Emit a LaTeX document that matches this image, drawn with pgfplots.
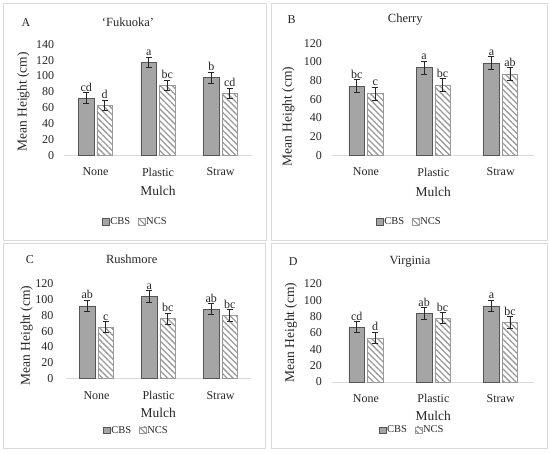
\documentclass[border=0pt]{standalone}
\usepackage{fontspec}
\setmainfont{Liberation Serif}
\usepackage{pgfplots}
\pgfplotsset{compat=1.18}
\usetikzlibrary{patterns.meta}

\definecolor{cbs}{HTML}{A5A5A5}
\definecolor{cbsedge}{HTML}{555555}
\definecolor{ncsline}{HTML}{9A9A9A}
\definecolor{frame}{HTML}{D9D9D9}
\definecolor{txt}{HTML}{262626}

\newcommand{\fs}[1]{\fontsize{#1}{#1}\selectfont}

\pgfplotsset{
  panel/.style={
    scale only axis, anchor=south west,
    ybar=3pt, bar width=15.5pt,
    xmin=-0.5, xmax=2.5, ymin=0,
    xtick={0,1,2}, xticklabels={None,Plastic,Straw},
    axis x line*=bottom, axis y line*=left,
    y axis line style={draw=none},
    x axis line style={-, draw=frame, line width=0.9pt},
    major tick length=0pt, tick style={draw=none},
    /pgf/number format/assume math mode=true,
    ticklabel style={font=\fs{12}, text=txt},
    xticklabel style={yshift=-9pt},
    point meta=explicit symbolic,
    nodes near coords,
    every node near coord/.append style={font=\fs{12}, text=txt, inner sep=1pt},
    legend style={draw=none, fill=none, legend columns=2, font=\fs{10.5}, text=txt,
      anchor=center,
      /tikz/every even column/.append style={column sep=7pt},
      nodes={inner sep=1pt}},
    legend image code/.code={\draw[#1] (0pt,-3.3pt) rectangle (6.6pt,3.3pt);},
    clip=false,
  },
  cbsbar/.style={fill=cbs, draw=cbsedge, line width=0.5pt,
    error bars/.cd, y dir=both, y explicit,
    error bar style={black!85, line width=0.7pt},
    error mark options={rotate=90, mark size=3pt, black!85, line width=0.7pt}},
  ncsbar/.style={fill=white, draw=ncsline, line width=0.5pt,
    pattern={Lines[angle=-45,distance=4.2pt,line width=1.3pt]}, pattern color=ncsline,
    error bars/.cd, y dir=both, y explicit,
    error bar style={black!85, line width=0.7pt},
    error mark options={rotate=90, mark size=3pt, black!85, line width=0.7pt}},
}

\begin{document}
\begin{tikzpicture}[x=1pt,y=1pt]
\path[use as bounding box] (0,0) rectangle (550,454);
\draw[frame, line width=0.8pt] (3,451) rectangle (266,214);
\draw[frame, line width=0.8pt] (271,451) rectangle (547,214);
\draw[frame, line width=0.8pt] (3,211) rectangle (265,6);
\draw[frame, line width=0.8pt] (271,211) rectangle (547,6);

% ---------- A
\begin{axis}[panel, at={(64.25pt,298.7pt)}, width=187.5pt, height=111pt,
  ymax=140, ytick={0,20,...,140},
  yticklabel style={xshift=-6.6pt},
  every node near coord/.append style={yshift=5.5pt},
  legend style={at={(axis description cs:0.377,-0.598)}}]
\addplot+[cbsbar] table[x=x,y=y,y error=e,meta=l] {
x y e l
0 72 7 cd
1 117 6 a
2 98 7 b
};
\addplot+[ncsbar] table[x=x,y=y,y error=e,meta=l] {
x y e l
0 63 6 d
1 88 6 bc
2 78 6 cd
};
\legend{CBS,NCS}
\end{axis}

% ---------- B
\begin{axis}[panel, at={(332.3pt,298.7pt)}, width=202.1pt, height=112pt,
  ymax=120, ytick={0,20,...,120},
  yticklabel style={xshift=-7pt},
  every node near coord/.append style={yshift=6.5pt},
  legend style={at={(axis description cs:0.380,-0.593)}}]
\addplot+[cbsbar] table[x=x,y=y,y error=e,meta=l] {
x y e l
0 74 7 bc
1 94 7 a
2 99 7 a
};
\addplot+[ncsbar] table[x=x,y=y,y error=e,meta=l] {
x y e l
0 66 7 c
1 75 7 bc
2 87 7 ab
};
\legend{CBS,NCS}
\end{axis}

% ---------- C
\begin{axis}[panel, at={(65.5pt,75.3pt)}, width=186pt, height=95pt,
  ymax=120, ytick={0,20,...,120},
  yticklabel style={xshift=-8.6pt},
  every node near coord/.append style={yshift=5.5pt},
  legend style={at={(axis description cs:0.379,-0.543)}}]
\addplot+[cbsbar] table[x=x,y=y,y error=e,meta=l] {
x y e l
0 92 7 ab
1 104 7 a
2 88 7 ab
};
\addplot+[ncsbar] table[x=x,y=y,y error=e,meta=l] {
x y e l
0 65 7 c
1 76 7 bc
2 80 7 bc
};
\legend{CBS,NCS}
\end{axis}

% ---------- D
\begin{axis}[panel, at={(332.3pt,72pt)}, width=202.1pt, height=98.3pt,
  ymax=120, ytick={0,20,...,120},
  yticklabel style={xshift=-7pt},
  every node near coord/.append style={yshift=5.7pt},
  legend style={at={(axis description cs:0.393,-0.491)}}]
\addplot+[cbsbar] table[x=x,y=y,y error=e,meta=l] {
x y e l
0 67 7 cd
1 84 7 ab
2 93 7 a
};
\addplot+[ncsbar] table[x=x,y=y,y error=e,meta=l] {
x y e l
0 54 7 d
1 78 7 bc
2 73 7 bc
};
\legend{CBS,NCS}
\end{axis}

% ---------- texts
\begin{scope}[every node/.style={text=txt}]
\node[font=\fs{12}] at (26,431.3) {A};
\node[font=\fs{12.5}] at (128,431.3) {‘Fukuoka’};
\node[font=\fs{13.5}, rotate=90] at (23.5,352) {Mean Height (cm)};
\node[font=\fs{13.5}] at (158,263) {Mulch};

\node[font=\fs{12}] at (291.7,434) {B};
\node[font=\fs{12.5}] at (405.3,434) {Cherry};
\node[font=\fs{13.5}, rotate=90] at (288.3,337.3) {Mean Height (cm)};
\node[font=\fs{13.5}] at (433.3,262.3) {Mulch};

\node[font=\fs{12}] at (30,194.7) {C};
\node[font=\fs{12.5}] at (131.7,194.7) {Rushmore};
\node[font=\fs{13.5}, rotate=90] at (26.7,118.5) {Mean Height (cm)};
\node[font=\fs{13.5}] at (158.3,41.3) {Mulch};

\node[font=\fs{12}] at (293.3,192) {D};
\node[font=\fs{12.5}] at (410,192) {Virginia};
\node[font=\fs{13.5}, rotate=90] at (291,121.5) {Mean Height (cm)};
\node[font=\fs{13.5}] at (433.3,37.7) {Mulch};
\end{scope}
\end{tikzpicture}
\end{document}
